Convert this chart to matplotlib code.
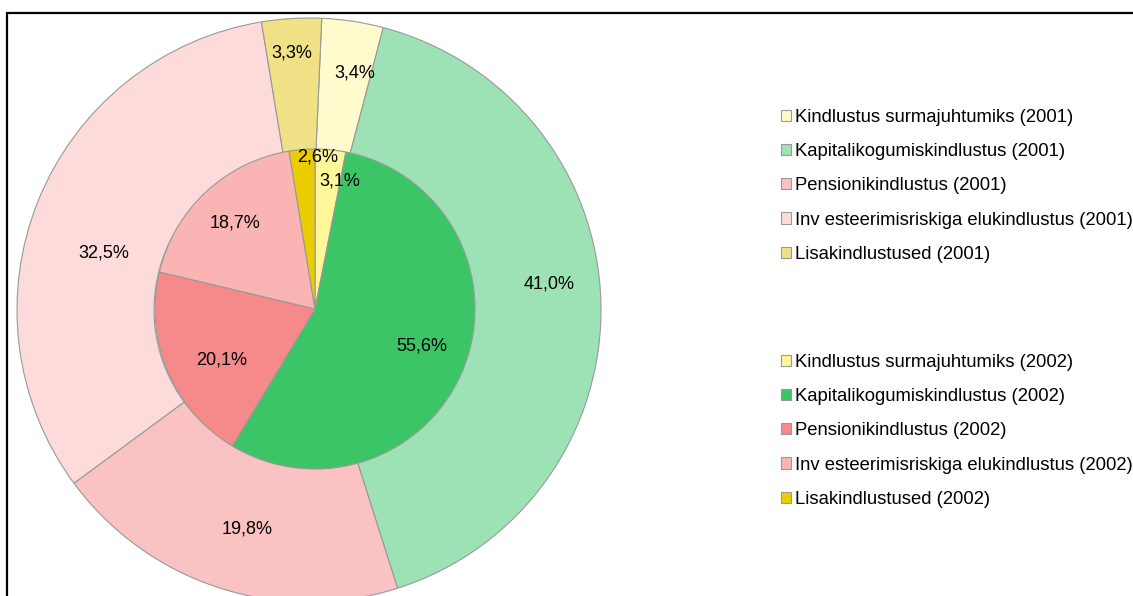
import numpy as np
import matplotlib
matplotlib.use("Agg")
import matplotlib.pyplot as plt
from matplotlib.patches import Rectangle

plt.rcParams["font.family"] = ["Liberation Sans", "DejaVu Sans"]

# ── data ───────────────────────────────────────────────────────────────
categories = [
    "Kindlustus surmajuhtumiks",
    "Kapitalikogumiskindlustus",
    "Pensionikindlustus",
    "Inv esteerimisriskiga elukindlustus",
    "Lisakindlustused",
]
share_2001 = [3.4, 41.0, 19.8, 32.5, 3.3]
share_2002 = [3.1, 55.6, 20.1, 18.7, 2.6]

colors_2001 = ["#FFFBCC", "#9DE2B4", "#FAC2C2", "#FDDBDB", "#F0E186"]
colors_2002 = ["#FFF799", "#3CC566", "#F68A8A", "#FBB4B4", "#EBCC00"]

# label placement: distance from centre (px) and angle nudge (deg), per wedge
lab_r_2001 = [241, 242, 228, 213, 258]
lab_da_2001 = [-2.4, 4.7, 2.2, 6.6, 0.4]
lab_r_2002 = [130, 113, 107, 117, 152]
lab_da_2002 = [-5.4, 2.0, 6.0, 0.0, -5.7]

W, H = 1133, 596
fig = plt.figure(figsize=(W / 100, H / 100), dpi=100)
ax = fig.add_axes([0, 0, 1, 1])

edge = dict(edgecolor="#999999", linewidth=0.8)
c_out = (309, H - 310)
c_in = (315, H - 309)

w_out, _ = ax.pie(share_2001, colors=colors_2001, radius=292, center=c_out,
                  startangle=87.5, counterclock=False,
                  wedgeprops=dict(width=292 - 155, **edge), frame=True)
w_in, _ = ax.pie(share_2002, colors=colors_2002, radius=160, center=c_in,
                 startangle=90, counterclock=False, wedgeprops=edge, frame=True)
ax.set_xlim(0, W); ax.set_ylim(0, H)
ax.set_aspect("equal"); ax.axis("off")


def fmt(v):
    return f"{v:.1f}%".replace(".", ",")


for wedges, vals, radii, nudges, c in [
        (w_out, share_2001, lab_r_2001, lab_da_2001, c_out),
        (w_in, share_2002, lab_r_2002, lab_da_2002, c_in)]:
    for w, v, r, da in zip(wedges, vals, radii, nudges):
        a = np.deg2rad((w.theta1 + w.theta2) / 2 + da)
        ax.text(c[0] + r * np.cos(a), c[1] + r * np.sin(a), fmt(v),
                ha="center", va="center", fontsize=13, color="black")

# ── legends ────────────────────────────────────────────────────────────
leg_kw = dict(loc="upper left", frameon=False, fontsize=13.3,
              handlelength=0.55, handleheight=0.55, handletextpad=0.2,
              labelspacing=0.93, borderpad=0, borderaxespad=0,
              bbox_transform=ax.transData)
leg1 = ax.legend(w_out, [f"{c} (2001)" for c in categories],
                 bbox_to_anchor=(781, H - 109), **leg_kw)
ax.add_artist(leg1)
ax.legend(w_in, [f"{c} (2002)" for c in categories],
          bbox_to_anchor=(781, H - 354), **leg_kw)

# chart border (right and bottom run off the image)
ax.add_patch(Rectangle((6.5, -20), W + 40, H - 12.5 + 20, fill=False,
                       edgecolor="black", linewidth=1.6, clip_on=False))

fig.savefig("out.png", dpi=100)
